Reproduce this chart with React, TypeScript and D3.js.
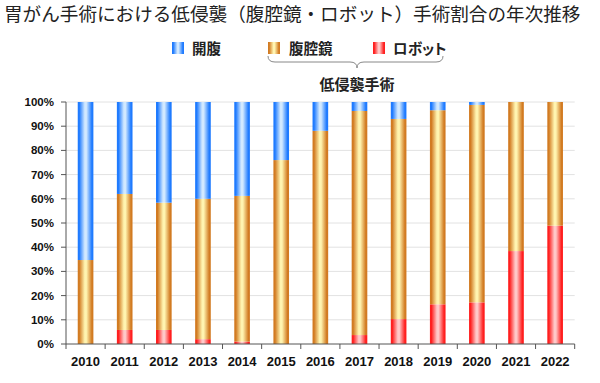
import React from "react";
import * as d3 from "d3";

const years = ["2010","2011","2012","2013","2014","2015","2016","2017","2018","2019","2020","2021","2022"];
const robot = [0, 5.8, 5.8, 2, 1, 0, 0, 3.7, 10.3, 16.4, 17.2, 38.4, 48.9];
const laparoscopic = [34.7, 56.2, 52.6, 58, 60.2, 76, 88.1, 92.6, 82.7, 80.2, 81.6, 61.6, 51.1];
const openSurgery = [65.3, 38, 41.6, 40, 38.8, 24, 11.9, 3.7, 7, 3.4, 1.2, 0, 0];
const yTicks = [0, 10, 20, 30, 40, 50, 60, 70, 80, 90, 100];

const seriesKeys = ["robot", "lap", "open"];
const seriesLabels: Record<string, string> = { open: "開腹", lap: "腹腔鏡", robot: "ロボット" };
const colors: Record<string, [string, string]> = {
  open: ["#1f7bff", "#d2e9ff"],
  lap: ["#d27b22", "#fff4b0"],
  robot: ["#ff1f1f", "#ffc8c8"],
};

export default function App() {
  const W = 600, H = 383;
  const x = d3.scaleBand<string>().domain(years).range([66, 574.7]).paddingInner(0.6).paddingOuter(0.3);
  const y = d3.scaleLinear().domain([0, 100]).range([344, 102]);
  const step = x.step();
  const off = step * 0.3;

  const table = years.map((yr, i) => ({ year: yr, robot: robot[i], lap: laparoscopic[i], open: openSurgery[i] }));
  const stacked = d3.stack<any>().keys(seriesKeys)(table);

  const xTicks = years.map((yr) => (x(yr) as number) - off).concat([574.7]);
  const font = "'Liberation Sans', Arial, sans-serif";
  const jp = "'Noto Sans CJK JP', sans-serif";

  const legend = [
    { key: "open", sx: 172, tx: 192 },
    { key: "lap", sx: 268, tx: 289 },
    { key: "robot", sx: 373, tx: 393 },
  ];

  return (
    <svg width={W} height={H} style={{ position: "absolute", left: 0, top: 0, background: "#fff" }}>
      <defs>
        {Object.keys(colors).map((k) => (
          <linearGradient key={k} id={"g-" + k} x1="0" x2="1" y1="0" y2="0">
            <stop offset="0" stopColor={colors[k][0]} />
            <stop offset="0.1" stopColor={colors[k][0]} />
            <stop offset="0.45" stopColor={colors[k][1]} />
            <stop offset="0.55" stopColor={colors[k][1]} />
            <stop offset="0.9" stopColor={colors[k][0]} />
            <stop offset="1" stopColor={colors[k][0]} />
          </linearGradient>
        ))}
      </defs>
      <rect width={W} height={H} fill="#fff" />
      <text x={4} y={21} fontFamily={jp} fontSize={18.6} fill="#222">
        胃がん手術における低侵襲（腹腔鏡・ロボット）手術割合の年次推移
      </text>

      {legend.map((l) => (
        <g key={l.key}>
          <rect x={l.sx} y={42} width={12} height={12} fill={`url(#g-${l.key})`} />
          <text
            x={l.tx}
            y={54}
            fontFamily={jp}
            fontWeight="bold"
            fontSize={14.5}
            fill="#222"
            style={{ fontFeatureSettings: "'palt'" }}
          >
            {seriesLabels[l.key]}
          </text>
        </g>
      ))}
      <path
        d="M268,56 Q268,62 275,62 L350,62 Q357,62 357,68 Q357,62 364,62 L436,62 Q443,62 443,56"
        fill="none"
        stroke="#888"
        strokeWidth={1}
      />
      <text x={357} y={90} textAnchor="middle" fontFamily={jp} fontWeight="bold" fontSize={15} fill="#222">
        低侵襲手術
      </text>

      {yTicks.map((t) => (
        <g key={t}>
          {t > 0 && <line x1={66} x2={574.7} y1={y(t)} y2={y(t)} stroke="#e2e2e2" strokeWidth={1} />}
          <line x1={61} x2={66} y1={y(t)} y2={y(t)} stroke="#555" />
          <text x={54} y={y(t) + 4} textAnchor="end" fontFamily={font} fontWeight="bold" fontSize={11.5} fill="#111">
            {t}%
          </text>
        </g>
      ))}

      {stacked.map((s) => (
        <g key={s.key}>
          {s.map((d, i) =>
            d[1] - d[0] > 0 ? (
              <rect
                key={i}
                x={x(years[i])}
                width={x.bandwidth()}
                y={y(d[1])}
                height={y(d[0]) - y(d[1])}
                fill={`url(#g-${s.key})`}
              />
            ) : null
          )}
        </g>
      ))}

      <line x1={66} x2={66} y1={102} y2={344} stroke="#555" />
      <line x1={66} x2={574.7} y1={344} y2={344} stroke="#555" />
      {xTicks.map((t, i) => (
        <line key={i} x1={t} x2={t} y1={344} y2={349} stroke="#555" />
      ))}
      {years.map((yr) => (
        <text
          key={yr}
          x={(x(yr) as number) + x.bandwidth() / 2}
          y={366}
          textAnchor="middle"
          fontFamily={font}
          fontWeight="bold"
          fontSize={13}
          fill="#111"
        >
          {yr}
        </text>
      ))}
    </svg>
  );
}
